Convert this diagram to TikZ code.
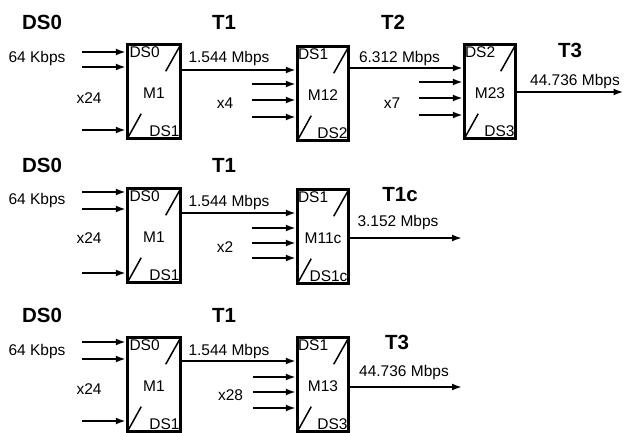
\documentclass[tikz,border=0pt]{standalone}
\usepackage{fontspec}
\setmainfont{Liberation Sans}
\usetikzlibrary{arrows.meta}
\tikzset{
  lbl/.style={font=\fontsize{15.5}{18}\selectfont, inner sep=0pt},
  ttl/.style={font=\bfseries\fontsize{20.5}{24}\selectfont, inner sep=0pt},
  mux/.style={draw, line width=3.4pt, minimum height=94pt, inner sep=0pt},
  arr/.style={line width=2pt, -{Latex[length=10pt,width=7pt]}},
  sl/.style={line width=1.5pt},
}
% #1 name, #2 position, #3 min width, #4 top label, #5 middle label, #6 bottom label, #7 top label x offset
\newcommand\muxbox[7]{%
  \node[mux, minimum width=#3] (#1) at (#2) {};
  \node[lbl, anchor=west] (#1t) at ([xshift=#7,yshift=-9.5pt]#1.north west) {#4};
  \node[lbl] (#1m) at ([yshift=-2pt]#1.center) {#5};
  \node[lbl, anchor=east] (#1b) at ([xshift=-2.5pt,yshift=9.5pt]#1.south east) {#6};
  \draw[sl] ([xshift=-2.4pt,yshift=-3.4pt]#1.north east) -- ([xshift=-16.5pt,yshift=-28.5pt]#1.north east);
  \draw[sl] ([xshift=15.4pt,yshift=26.5pt]#1.south west) -- ([xshift=1.5pt,yshift=1.5pt]#1.south west);
}
\begin{document}
\begin{tikzpicture}[x=1pt,y=-1pt]
\useasboundingbox (0,0) rectangle (624,432);
\clip (0,0) rectangle (624,432);

% ---------- Row 1 ----------
\node[ttl] (r1ds0) at (42,22) {DS0};
\node[ttl] (r1t1) at (224,22) {T1};
\node[ttl] (r1t2) at (393,22) {T2};
\node[ttl] (r1t3) at (570,50) {T3};
\node[lbl] (r1kb) at (37,58) {64 Kbps};
\node[lbl] (r1x24) at (89,98) {x24};
\node[lbl] (r1r1) at (229,58) {1.544 Mbps};
\node[lbl] (r1x4) at (225,103) {x4};
\node[lbl] (r1r2) at (399.5,58) {6.312 Mbps};
\node[lbl] (r1x7) at (392,103) {x7};
\node[lbl] (r1r3) at (575,81) {44.736 Mbps};

\muxbox{ma}{154,91.5}{53pt}{DS0}{M1}{DS1}{3.5pt}
\muxbox{mb}{323,93.5}{51pt}{DS1}{M12}{DS2}{2pt}
\muxbox{mc}{490,91.5}{51pt}{DS2}{M23}{DS3}{2pt}

\coordinate (a1) at (82,52);
\coordinate (a2) at (82,67);
\coordinate (a3) at (82,130);
\foreach \c in {a1,a2,a3} \draw[arr] (\c) -- (\c -| ma.west);
\coordinate (ao) at (0,70);
\draw[arr] (ma.east |- ao) -- (mb.west |- ao);
\coordinate (b1) at (252,84);
\coordinate (b2) at (252,100);
\coordinate (b3) at (252,117);
\foreach \c in {b1,b2,b3} \draw[arr] (\c) -- (\c -| mb.west);
\coordinate (bo) at (0,68);
\draw[arr] (mb.east |- bo) -- (mc.west |- bo);
\coordinate (c1) at (419,82);
\coordinate (c2) at (419,98);
\coordinate (c3) at (419,115);
\foreach \c in {c1,c2,c3} \draw[arr] (\c) -- (\c -| mc.west);
\coordinate (ce) at (623.5,92);
\draw[arr] (mc.east |- ce) -- (ce);

% ---------- Row 2 ----------
\node[ttl] (r2ds0) at (42,165) {DS0};
\node[ttl] (r2t1) at (224,165) {T1};
\node[ttl] (r2t1c) at (400,195) {T1c};
\node[lbl] (r2kb) at (37,200) {64 Kbps};
\node[lbl] (r2x24) at (89,238) {x24};
\node[lbl] (r2r1) at (229,202) {1.544 Mbps};
\node[lbl] (r2x2) at (225,247) {x2};
\node[lbl] (r2r2) at (398,222) {3.152 Mbps};

\muxbox{md}{154,235.5}{53pt}{DS0}{M1}{DS1}{3.5pt}
\muxbox{me}{323,236.5}{51pt}{DS1}{M11c}{DS1c}{2pt}

\coordinate (d1) at (82,192);
\coordinate (d2) at (82,209);
\coordinate (d3) at (82,273);
\foreach \c in {d1,d2,d3} \draw[arr] (\c) -- (\c -| md.west);
\coordinate (do) at (0,213);
\draw[arr] (md.east |- do) -- (me.west |- do);
\coordinate (e1) at (252,228);
\coordinate (e2) at (252,243);
\coordinate (e3) at (252,258);
\foreach \c in {e1,e2,e3} \draw[arr] (\c) -- (\c -| me.west);
\coordinate (ee) at (462,238);
\draw[arr] (me.east |- ee) -- (ee);

% ---------- Row 3 ----------
\node[ttl] (r3ds0) at (42,315) {DS0};
\node[ttl] (r3t1) at (224,315) {T1};
\node[ttl] (r3t3) at (397,342) {T3};
\node[lbl] (r3kb) at (37,351) {64 Kbps};
\node[lbl] (r3x24) at (89,389) {x24};
\node[lbl] (r3r1) at (229,351) {1.544 Mbps};
\node[lbl] (r3x28) at (230.5,395) {x28};
\node[lbl] (r3r2) at (404,372) {44.736 Mbps};

\muxbox{mf}{154,384.5}{53pt}{DS0}{M1}{DS1}{3.5pt}
\muxbox{mg}{323,384.5}{51pt}{DS1}{M13}{DS3}{2pt}

\coordinate (f1) at (82,342);
\coordinate (f2) at (82,359);
\coordinate (f3) at (82,421);
\foreach \c in {f1,f2,f3} \draw[arr] (\c) -- (\c -| mf.west);
\coordinate (fo) at (0,361);
\draw[arr] (mf.east |- fo) -- (mg.west |- fo);
\coordinate (g1) at (253,377);
\coordinate (g2) at (253,392);
\coordinate (g3) at (253,408);
\foreach \c in {g1,g2,g3} \draw[arr] (\c) -- (\c -| mg.west);
\coordinate (ge) at (462,387);
\draw[arr] (mg.east |- ge) -- (ge);
\end{tikzpicture}
\end{document}
